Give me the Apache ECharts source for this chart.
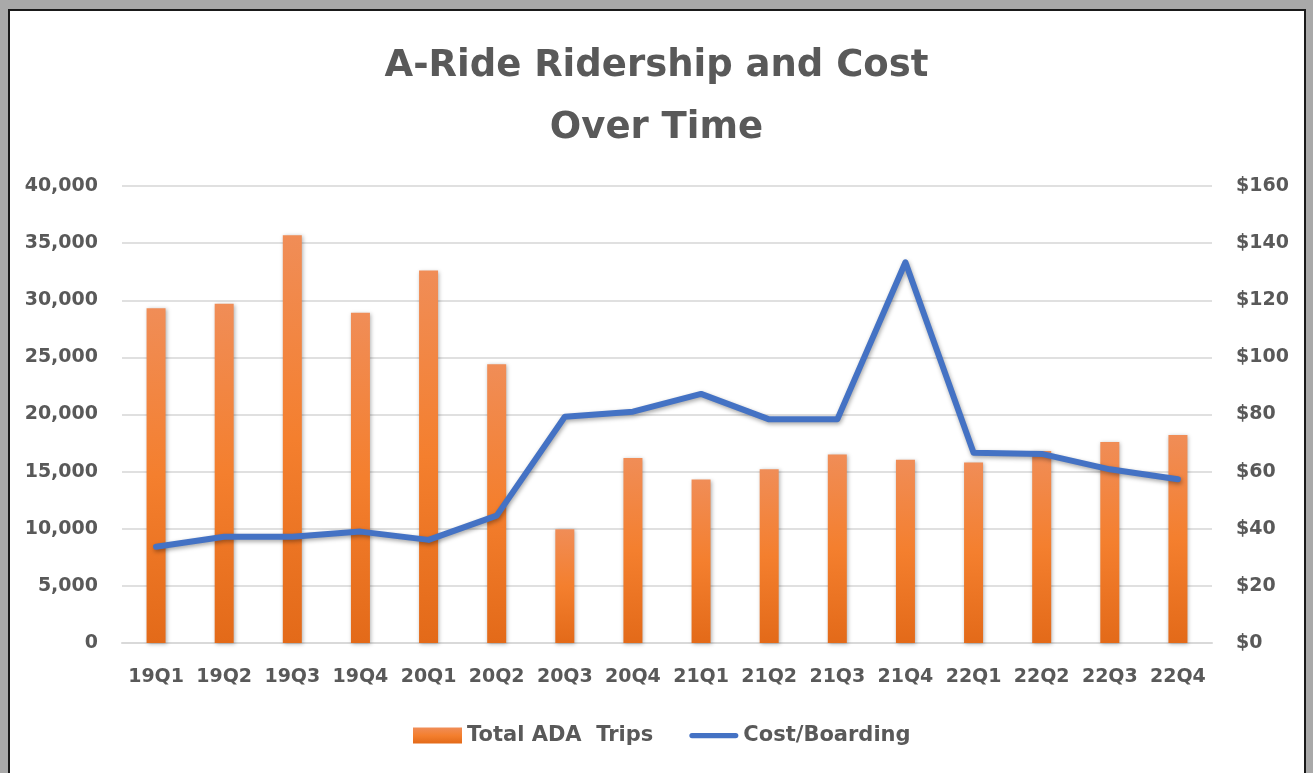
<!DOCTYPE html>
<html>
<head>
<meta charset="utf-8">
<script src="https://cdn.jsdelivr.net/npm/echarts@6/dist/echarts.min.js"></script>
<style>
  html, body { margin: 0; padding: 0; }
  #container { width: 1313px; height: 773px; }
</style>
</head>
<body>
<div id="container"></div>
<script>
// Dados do gráfico
var quarters = ['19Q1', '19Q2', '19Q3', '19Q4', '20Q1', '20Q2', '20Q3', '20Q4',
                '21Q1', '21Q2', '21Q3', '21Q4', '22Q1', '22Q2', '22Q3', '22Q4'];
var adaTrips = [29300, 29700, 35700, 28900, 32600, 24400, 9950, 16200,
                14300, 15200, 16500, 16050, 15800, 16800, 17600, 18200];
var costPerBoarding = [33.7, 37.2, 37.2, 39.0, 36.1, 44.6, 79.2, 81.0,
                       87.2, 78.3, 78.3, 133.3, 66.6, 66.2, 60.8, 57.3];

var fontFamily = "'DejaVu Sans', sans-serif";
var textColor = '#595959';

var dom = document.getElementById('container');
var myChart = echarts.init(dom, null, { renderer: 'canvas' });

var option = {
    backgroundColor: '#a9a9a9',
    animation: false,
    graphic: [
        {
            type: 'rect',
            z: -10,
            shape: { x: 9, y: 10, width: 1296, height: 775 },
            style: { fill: '#ffffff', stroke: '#1a1a1a', lineWidth: 2 }
        }
    ],
    title: {
        text: 'A-Ride Ridership and Cost\nOver Time',
        left: 'center',
        top: 30,
        textStyle: {
            fontFamily: fontFamily,
            fontSize: 37,
            fontWeight: 'bold',
            color: textColor,
            lineHeight: 62
        }
    },
    legend: {
        left: 408,
        top: 720,
        itemGap: 36,
        itemWidth: 49,
        itemHeight: 16,
        textStyle: {
            fontFamily: fontFamily,
            fontSize: 21,
            fontWeight: 'bold',
            color: textColor
        },
        data: [
            { name: 'Total ADA  Trips', icon: 'rect' },
            {
                name: 'Cost/Boarding',
                icon: 'path://M3,0 L53,0 A3,3 0 0 1 53,6 L3,6 A3,3 0 0 1 3,0 Z',
                itemStyle: { color: '#4472c4' }
            }
        ]
    },
    grid: {
        left: 122,
        right: 101,
        top: 186,
        bottom: 130
    },
    xAxis: {
        type: 'category',
        data: quarters,
        axisTick: { show: false },
        axisLine: { lineStyle: { color: '#d9d9d9', width: 2 } },
        axisLabel: {
            interval: 0,
            hideOverlap: false,
            margin: 25,
            fontFamily: fontFamily,
            fontSize: 19,
            fontWeight: 'bold',
            color: textColor
        }
    },
    yAxis: [
        {
            type: 'value',
            min: 0,
            max: 40000,
            interval: 5000,
            axisLine: { show: false },
            axisTick: { show: false },
            splitLine: { lineStyle: { color: '#e0e0e0', width: 2 } },
            axisLabel: {
                margin: 24,
                fontFamily: fontFamily,
                fontSize: 19,
                fontWeight: 'bold',
                color: textColor,
                formatter: function (v) { return v.toLocaleString('en-US'); }
            }
        },
        {
            type: 'value',
            min: 0,
            max: 160,
            interval: 20,
            axisLine: { show: false },
            axisTick: { show: false },
            splitLine: { show: false },
            axisLabel: {
                margin: 24,
                fontFamily: fontFamily,
                fontSize: 19,
                fontWeight: 'bold',
                color: textColor,
                formatter: '${value}'
            }
        }
    ],
    series: [
        {
            name: 'Total ADA  Trips',
            type: 'bar',
            barWidth: 19,
            data: adaTrips,
            itemStyle: {
                color: new echarts.graphic.LinearGradient(0, 0, 0, 1, [
                    { offset: 0, color: '#f08d57' },
                    { offset: 0.5, color: '#f47f2e' },
                    { offset: 1, color: '#e36a19' }
                ]),
                shadowColor: 'rgba(0,0,0,0.3)',
                shadowBlur: 4,
                shadowOffsetX: 1,
                shadowOffsetY: 1
            }
        },
        {
            name: 'Cost/Boarding',
            type: 'line',
            yAxisIndex: 1,
            data: costPerBoarding,
            symbol: 'none',
            z: 3,
            lineStyle: {
                color: '#4472c4',
                width: 6,
                cap: 'round',
                join: 'round',
                shadowColor: 'rgba(0,0,0,0.35)',
                shadowBlur: 4,
                shadowOffsetX: 1,
                shadowOffsetY: 2
            },
            itemStyle: { color: '#4472c4' }
        }
    ]
};

myChart.setOption(option);

window.addEventListener('resize', function () {
    myChart.resize();
});
</script>
</body>
</html>
